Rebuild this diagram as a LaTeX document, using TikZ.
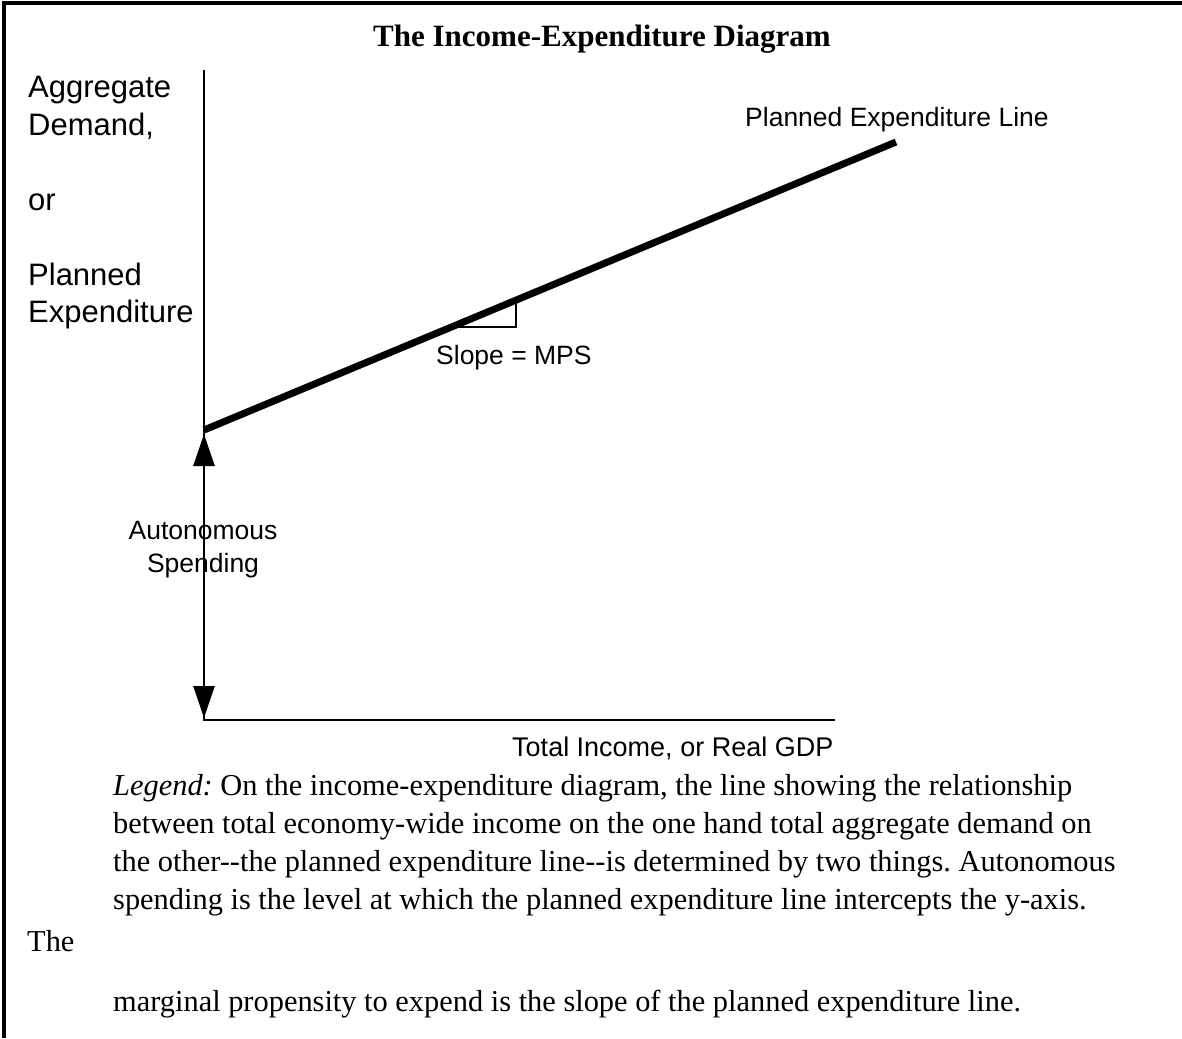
\documentclass[tikz,border=0pt]{standalone}
\usepackage{fontspec}
\setmainfont{Liberation Serif}
\newfontfamily\helvfont{Liberation Sans}
\usetikzlibrary{arrows.meta,calc}
\frenchspacing

\begin{document}
\begin{tikzpicture}[x=1pt,y=-1pt]
		\tikzstyle{frame}=[line width=4pt]
		\tikzstyle{axis}=[line width=2.4pt]
		\tikzstyle{peline}=[line width=7pt]
		\tikzstyle{thin}=[line width=1.6pt]
		\tikzstyle{twoway}=[line width=2.6pt,{Triangle[length=32pt,width=21pt]}-{Triangle[length=32pt,width=21pt]}]
		\tikzstyle{axislabel}=[inner sep=0pt,font=\helvfont\fontsize{31}{37.5}\selectfont,align=left]
		\tikzstyle{smalllabel}=[inner sep=0pt,font=\helvfont\fontsize{26.5}{33}\selectfont]
		\tikzstyle{legendtext}=[inner sep=0pt,font=\fontsize{30.4}{38}\selectfont,align=left]

		\useasboundingbox (0,0) rectangle (1182,1038);
		\draw[frame] (1182,3) -- (4,3) -- (4,1038);

		\coordinate (origin) at (204,720);
		\coordinate (ytop) at (204,70);
		\coordinate (xend) at (835,720);
		\coordinate (pe0) at (204,430);
		\coordinate (pe1) at (896,142);
		\coordinate (autotop) at (204,434);
		\coordinate (autobot) at (204,718);
		\coordinate (trA) at ($(pe0)!0.367!(pe1)$);
		\coordinate (trB) at ($(pe0)!0.4509!(pe1)$);
		\coordinate (corner) at (516,327);

		\node[anchor=base,inner sep=0pt,font=\bfseries\fontsize{31}{37}\selectfont] (title) at (602,47) {The Income-Expenditure Diagram};
		\node[axislabel,anchor=north west] (ylabel) at (28,76) {Aggregate\\Demand,\\[37.5pt]or\\[37.5pt]Planned\\Expenditure};
		\node[smalllabel,anchor=base west] (pelabel) at (745,127) {Planned Expenditure Line};
		\node[smalllabel,anchor=base west] (slope) at (436,364) {Slope = MPS};
		\node[smalllabel,align=center,anchor=north] (auto) at (203,521) {Autonomous\\Spending};
		\node[smalllabel,anchor=base west,font=\helvfont\fontsize{27}{33}\selectfont] (xlabel) at (512,756) {Total Income, or Real GDP};

		\draw[axis] (ytop) -- (origin) -- (xend);
		\draw[thin] (trB) -- (corner) -- (corner -| trA);
		\draw[peline] (pe0) -- (pe1);
		\draw[twoway] (autotop) -- (autobot);

		\node[legendtext,anchor=north west] (legend) at (113,774) {\textit{Legend:} On the income-expenditure diagram, the line showing the relationship\\between total economy-wide income on the one hand total aggregate demand on\\the other-{}-the planned expenditure line-{}-is determined by two things. Autonomous\\spending is the level at which the planned expenditure line intercepts the y-axis.};
		\node[legendtext,anchor=base west] (legendthe) at (27,951) {The};
		\node[legendtext,anchor=base west] (legendend) at (113,1011) {marginal propensity to expend is the slope of the planned expenditure line.};
	\end{tikzpicture}
\end{document}
